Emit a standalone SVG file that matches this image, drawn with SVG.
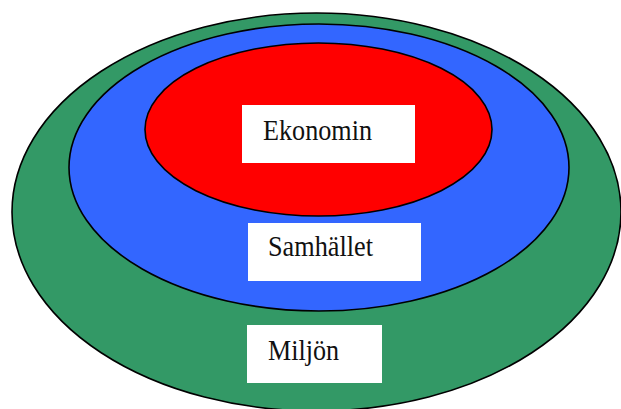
<svg xmlns="http://www.w3.org/2000/svg" width="621" height="409" viewBox="0 0 621 409">
  <style>
    .ring { stroke: #000; stroke-width: 1.6; }
    .box { fill: #fff; }
    .lbl { font-family: "Liberation Serif", "Times New Roman", serif; font-size: 28.5px; fill: #111; }
  </style>
  <rect width="621" height="409" fill="#fff"/>
  <g id="miljon">
    <ellipse class="ring" cx="316.5" cy="212" rx="304.5" ry="199" fill="#339966"/>
  </g>
  <g id="samhallet">
    <ellipse class="ring" cx="319" cy="167.5" rx="250" ry="143.5" fill="#3366FF"/>
  </g>
  <g id="ekonomin">
    <ellipse class="ring" cx="318.5" cy="129.5" rx="173.5" ry="86.5" fill="#FF0000"/>
  </g>
  <g id="label-ekonomin">
    <rect class="box" x="242" y="105" width="173" height="58"/>
    <text class="lbl" x="263" y="140" textLength="109" lengthAdjust="spacingAndGlyphs">Ekonomin</text>
  </g>
  <g id="label-samhallet">
    <rect class="box" x="248" y="223" width="173" height="58"/>
    <text class="lbl" x="268" y="256" textLength="105" lengthAdjust="spacingAndGlyphs">Samhället</text>
  </g>
  <g id="label-miljon">
    <rect class="box" x="247" y="325" width="135" height="58"/>
    <text class="lbl" x="268" y="360" textLength="71" lengthAdjust="spacingAndGlyphs">Miljön</text>
  </g>
  <g id="connectors"/>
</svg>
